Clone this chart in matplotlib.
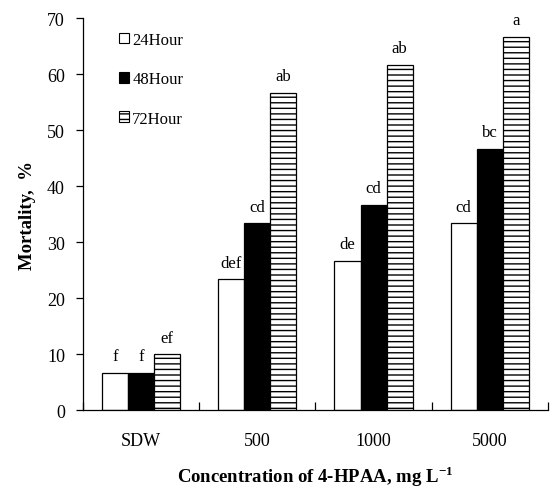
import matplotlib
matplotlib.use("Agg")
import matplotlib.pyplot as plt
import numpy as np
from matplotlib.patches import Patch

plt.rcParams['font.family'] = ['Liberation Serif', 'DejaVu Serif']
plt.rcParams['mathtext.fontset'] = 'custom'
plt.rcParams['mathtext.rm'] = 'Liberation Serif'
plt.rcParams['mathtext.bf'] = 'Liberation Serif:bold'
plt.rcParams['hatch.linewidth'] = 1.0

categories = ['SDW', '500', '1000', '5000']
series_names = ['24Hour', '48Hour', '72Hour']
h24 = [6.67, 23.33, 26.67, 33.33]
h48 = [6.67, 33.33, 36.67, 46.67]
h72 = [10.0, 56.67, 61.67, 66.67]
letters24 = ['f', 'def', 'de', 'cd']
letters48 = ['f', 'cd', 'cd', 'bc']
letters72 = ['ef', 'ab', 'ab', 'a']

fig = plt.figure(figsize=(5.5, 4.89), dpi=100)
ax = fig.add_axes([0.151, 0.1595, 0.845, 0.8015])

x = np.arange(len(categories))
w = 0.224
styles = [dict(facecolor='white', edgecolor='black'),
          dict(facecolor='black', edgecolor='black'),
          dict(facecolor='white', edgecolor='black', hatch='---')]
allvals = [h24, h48, h72]
allletters = [letters24, letters48, letters72]
for i, (vals, st, lets) in enumerate(zip(allvals, styles, allletters)):
    pos = x + (i - 1) * w
    ax.bar(pos, vals, width=w, linewidth=0.9, **st)
    for p, v, t in zip(pos, vals, lets):
        ax.text(p, v + 1.5, t, ha='center', va='bottom', fontsize=12)

ax.set_xlim(-0.5, 3.5)
ax.set_ylim(0, 70)
ax.set_yticks(range(0, 71, 10))
ax.set_xticks(x)
ax.set_xticklabels(categories, fontsize=13)
ax.tick_params(axis='x', which='major', length=0, pad=16)
ax.set_xticks(np.arange(-0.5, 3.6, 1.0), minor=True)
ax.tick_params(axis='x', which='minor', direction='in', length=6, width=0.9)
ax.tick_params(axis='y', direction='out', length=5, width=0.9, labelsize=13, pad=8)
for s in ['top', 'right']:
    ax.spines[s].set_visible(False)
for s in ['left', 'bottom']:
    ax.spines[s].set_linewidth(0.9)

ax.set_ylabel('Mortality,  %', fontsize=13.5, fontweight='bold', labelpad=8)
ax.set_xlabel(r'Concentration of 4-HPAA, mg L$^{\mathbf{-1}}$', fontsize=13.5,
              fontweight='bold', labelpad=10)

handles = [Patch(facecolor='white', edgecolor='black', linewidth=0.8),
           Patch(facecolor='black', edgecolor='black', linewidth=0.8),
           Patch(facecolor='white', edgecolor='black', hatch='---', linewidth=0.8)]
ax.legend(handles, series_names, loc='upper left', bbox_to_anchor=(0.045, 1.003),
          frameon=False, fontsize=12, handlelength=0.6, handleheight=0.6,
          handletextpad=0.2, labelspacing=1.4)

fig.savefig('out.png', dpi=100)
